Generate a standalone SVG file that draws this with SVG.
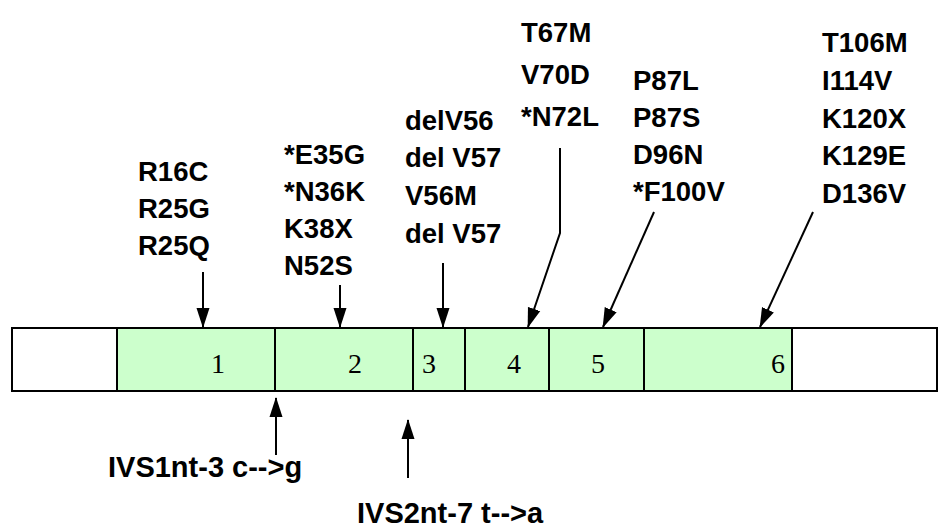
<svg xmlns="http://www.w3.org/2000/svg" width="949" height="528" viewBox="0 0 949 528">
<style>
.lbl{font-family:"Liberation Sans",Arial,sans-serif;font-weight:bold;font-size:27.5px;fill:#000}
.ivs{font-size:29px}
.num{font-family:"Liberation Serif","Times New Roman",serif;font-size:28px;fill:#000;text-anchor:middle}
.exon{fill:#ccffcc;stroke:#000;stroke-width:2}
.utr{fill:#fff;stroke:#000;stroke-width:2}
.con{stroke:#000;stroke-width:2;fill:none}
</style>
<defs>
<marker id="ah" markerWidth="20" markerHeight="14" refX="19" refY="7" orient="auto" markerUnits="userSpaceOnUse">
<path d="M0,0.5 L20,7 L0,13.5 z" fill="#000"/>
</marker>
</defs>
<g id="gene">
<rect class="utr" x="12" y="328" width="925" height="63"/>
<g id="exon1"><rect class="exon" x="117" y="328" width="158" height="63"/><text class="num" x="218" y="373">1</text></g>
<g id="exon2"><rect class="exon" x="275" y="328" width="138" height="63"/><text class="num" x="355" y="373">2</text></g>
<g id="exon3"><rect class="exon" x="413" y="328" width="52" height="63"/><text class="num" x="429" y="373">3</text></g>
<g id="exon4"><rect class="exon" x="465" y="328" width="84" height="63"/><text class="num" x="514" y="373">4</text></g>
<g id="exon5"><rect class="exon" x="549" y="328" width="95" height="63"/><text class="num" x="598" y="373">5</text></g>
<g id="exon6"><rect class="exon" x="644" y="328" width="148" height="63"/><text class="num" x="778" y="373">6</text></g>
</g>
<g id="labels1" class="lbl">
<text x="138" y="181">R16C</text><text x="138" y="218">R25G</text><text x="138" y="255">R25Q</text>
</g>
<g id="labels2" class="lbl">
<text x="284" y="164">*E35G</text><text x="284" y="201">*N36K</text><text x="284" y="238">K38X</text><text x="284" y="275">N52S</text>
</g>
<g id="labels3" class="lbl">
<text x="405" y="130">delV56</text><text x="405" y="167">del V57</text><text x="405" y="205">V56M</text><text x="405" y="243">del V57</text>
</g>
<g id="labels4" class="lbl">
<text x="521" y="42">T67M</text><text x="521" y="84">V70D</text><text x="521" y="126">*N72L</text>
</g>
<g id="labels5" class="lbl">
<text x="633" y="90">P87L</text><text x="633" y="127">P87S</text><text x="633" y="164">D96N</text><text x="633" y="201">*F100V</text>
</g>
<g id="labels6" class="lbl">
<text x="822" y="52">T106M</text><text x="822" y="90">I114V</text><text x="822" y="128">K120X</text><text x="822" y="165">K129E</text><text x="822" y="203">D136V</text>
</g>
<g id="labels-ivs" class="lbl ivs">
<text x="108" y="477">IVS1nt-3 c--&gt;g</text>
<text x="357" y="523">IVS2nt-7 t--&gt;a</text>
</g>
<g id="connectors" class="con">
<line x1="203" y1="272" x2="203" y2="327" marker-end="url(#ah)"/>
<line x1="340" y1="285" x2="340" y2="327" marker-end="url(#ah)"/>
<line x1="443" y1="263" x2="443" y2="327" marker-end="url(#ah)"/>
<polyline points="560,148 560,233 528,327" marker-end="url(#ah)"/>
<line x1="654" y1="212" x2="603" y2="327" marker-end="url(#ah)"/>
<line x1="813" y1="212" x2="760" y2="327" marker-end="url(#ah)"/>
<line x1="276" y1="455" x2="276" y2="398" marker-end="url(#ah)"/>
<line x1="408" y1="478" x2="408" y2="420" marker-end="url(#ah)"/>
</g>
</svg>
